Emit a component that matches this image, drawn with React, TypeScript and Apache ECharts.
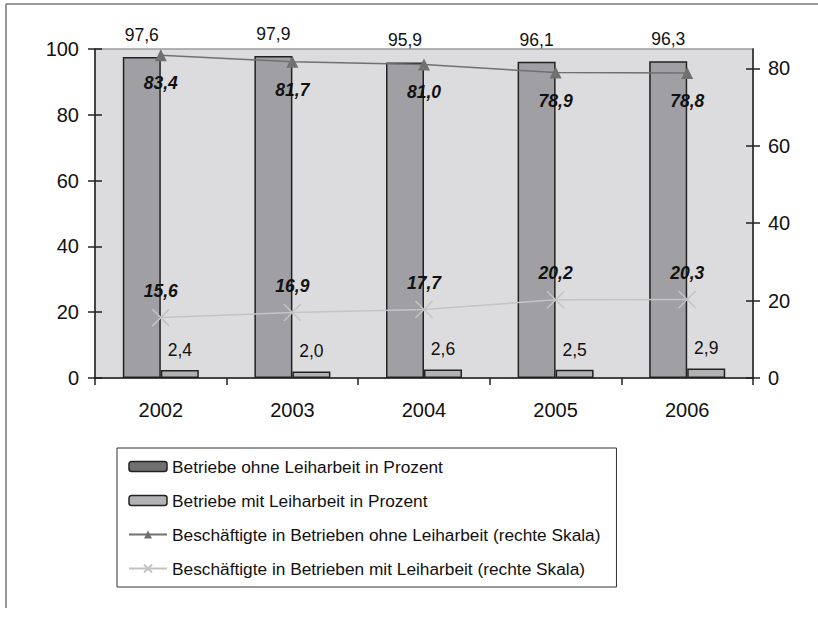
import React, { useEffect, useRef } from "react";
import * as echarts from "echarts";

const years = ["2002", "2003", "2004", "2005", "2006"];
const ohneBetriebe = [97.6, 97.9, 95.9, 96.1, 96.3];
const mitBetriebe = [2.4, 2.0, 2.6, 2.5, 2.9];
const ohneBeschaeftigte = [83.4, 81.7, 81.0, 78.9, 78.8];
const mitBeschaeftigte = [15.6, 16.9, 17.7, 20.2, 20.3];
const leftTicks = [0, 20, 40, 60, 80, 100];
const rightTicks = [0, 20, 40, 60, 80];

const names = [
  "Betriebe ohne Leiharbeit in Prozent",
  "Betriebe mit Leiharbeit in Prozent",
  "Beschäftigte in Betrieben ohne Leiharbeit (rechte Skala)",
  "Beschäftigte in Betrieben mit Leiharbeit (rechte Skala)",
];

const FONT = "'Liberation Sans', Arial, sans-serif";
const fmt = (v: number) => v.toFixed(1).replace(".", ",");
const CROSS = "path://M0,0L10,10M10,0L0,10";

export default function App() {
  const ref = useRef<HTMLDivElement>(null);
  useEffect(() => {
    if (!ref.current) return;
    const chart = echarts.init(ref.current, null, { renderer: "svg" });
    const axisLineStyle = { color: "#222", width: 1.5 };
    chart.setOption({
      animation: false,
      textStyle: { fontFamily: FONT },
      grid: {
        left: 95,
        right: 65,
        top: 49,
        bottom: 242,
        show: true,
        backgroundColor: "#dcdcde",
        borderColor: "#9a9a9a",
        borderWidth: 1.5,
      },
      graphic: [
        { type: "line", shape: { x1: 6, y1: 4, x2: 818, y2: 4 }, style: { stroke: "#777", lineWidth: 1.5 } },
        { type: "line", shape: { x1: 6, y1: 4, x2: 6, y2: 608 }, style: { stroke: "#777", lineWidth: 1.5 } },
      ],
      legend: {
        orient: "vertical",
        left: 117,
        top: 448,
        padding: [10, 16, 10, 11],
        itemGap: 17,
        itemWidth: 38,
        itemHeight: 10,
        borderColor: "#333",
        borderWidth: 1,
        selectedMode: false,
        textStyle: { fontSize: 17.3, color: "#111", fontFamily: FONT },
        data: [
          { name: names[0], itemStyle: { color: "#707070", borderColor: "#222", borderWidth: 1.5 } },
          { name: names[1], itemStyle: { color: "#b2b2b4", borderColor: "#222", borderWidth: 1.5 } },
          { name: names[2] },
          { name: names[3] },
        ],
      },
      xAxis: {
        type: "category",
        data: years,
        boundaryGap: true,
        axisLine: { lineStyle: axisLineStyle },
        axisTick: { show: true, length: 7, lineStyle: axisLineStyle },
        axisLabel: { fontSize: 20, color: "#111", margin: 22, fontFamily: FONT },
        splitLine: { show: false },
      },
      yAxis: [
        {
          type: "value",
          position: "left",
          min: 0,
          max: 100,
          interval: 20,
          axisLine: { show: true, lineStyle: axisLineStyle },
          axisTick: { show: true, length: 7, lineStyle: axisLineStyle, customValues: leftTicks },
          axisLabel: { fontSize: 20, color: "#111", margin: 16, fontFamily: FONT, customValues: leftTicks },
          splitLine: { show: false },
        },
        {
          type: "value",
          position: "right",
          min: 0,
          max: 85,
          interval: 20,
          axisLine: { show: true, lineStyle: axisLineStyle },
          axisTick: { show: true, length: 7, lineStyle: axisLineStyle, customValues: rightTicks },
          axisLabel: {
            fontSize: 20,
            color: "#111",
            margin: 15,
            fontFamily: FONT,
            customValues: rightTicks,
            formatter: (v: number) => (v % 20 === 0 ? String(v) : ""),
          },
          splitLine: { show: false },
        },
        {
          type: "value",
          position: "left",
          min: 0,
          max: 100,
          interval: 20,
          axisLine: { show: false },
          axisTick: { show: true, inside: true, length: 7, lineStyle: axisLineStyle, customValues: leftTicks },
          axisLabel: { show: false },
          splitLine: { show: false },
        },
        {
          type: "value",
          position: "right",
          min: 0,
          max: 85,
          interval: 20,
          axisLine: { show: false },
          axisTick: { show: true, inside: true, length: 7, lineStyle: axisLineStyle, customValues: rightTicks },
          axisLabel: { show: false },
          splitLine: { show: false },
        },
      ],
      series: [
        {
          name: names[0],
          type: "bar",
          yAxisIndex: 0,
          data: ohneBetriebe,
          barWidth: 38,
          barGap: "0%",
          itemStyle: { color: "#a0a0a4", borderColor: "#222", borderWidth: 1.5 },
          label: {
            show: true,
            position: "top",
            distance: 13,
            fontSize: 17.5,
            color: "#111",
            fontFamily: FONT,
            formatter: (p: any) => fmt(p.value),
          },
        },
        {
          name: names[1],
          type: "bar",
          yAxisIndex: 0,
          data: mitBetriebe,
          barWidth: 38,
          barGap: "0%",
          itemStyle: { color: "#b2b2b4", borderColor: "#222", borderWidth: 1.5 },
          label: {
            show: true,
            position: "top",
            distance: 11,
            fontSize: 17.5,
            color: "#111",
            fontFamily: FONT,
            formatter: (p: any) => fmt(p.value),
          },
        },
        {
          name: names[2],
          type: "line",
          yAxisIndex: 1,
          data: ohneBeschaeftigte,
          symbol: "triangle",
          symbolSize: 12,
          z: 5,
          lineStyle: { color: "#707070", width: 1.5 },
          itemStyle: { color: "#707070" },
          label: {
            show: true,
            position: "bottom",
            distance: 13,
            fontSize: 17.5,
            fontWeight: "bold",
            fontStyle: "italic",
            color: "#111",
            fontFamily: FONT,
            formatter: (p: any) => fmt(p.value),
          },
        },
        {
          name: names[3],
          type: "line",
          yAxisIndex: 1,
          data: mitBeschaeftigte,
          symbol: CROSS,
          symbolSize: 17,
          z: 5,
          lineStyle: { color: "#c4c4c4", width: 1.5 },
          itemStyle: { color: "#c4c4c4", borderColor: "#c4c4c4", borderWidth: 1.5 },
          label: {
            show: true,
            position: "top",
            distance: 8.5,
            fontSize: 17.5,
            fontWeight: "bold",
            fontStyle: "italic",
            color: "#111",
            fontFamily: FONT,
            formatter: (p: any) => fmt(p.value),
          },
        },
      ],
    });
    return () => chart.dispose();
  }, []);
  return (
    <div
      ref={ref}
      style={{ position: "fixed", left: 0, top: 0, width: 818, height: 620, background: "#fff" }}
    />
  );
}
